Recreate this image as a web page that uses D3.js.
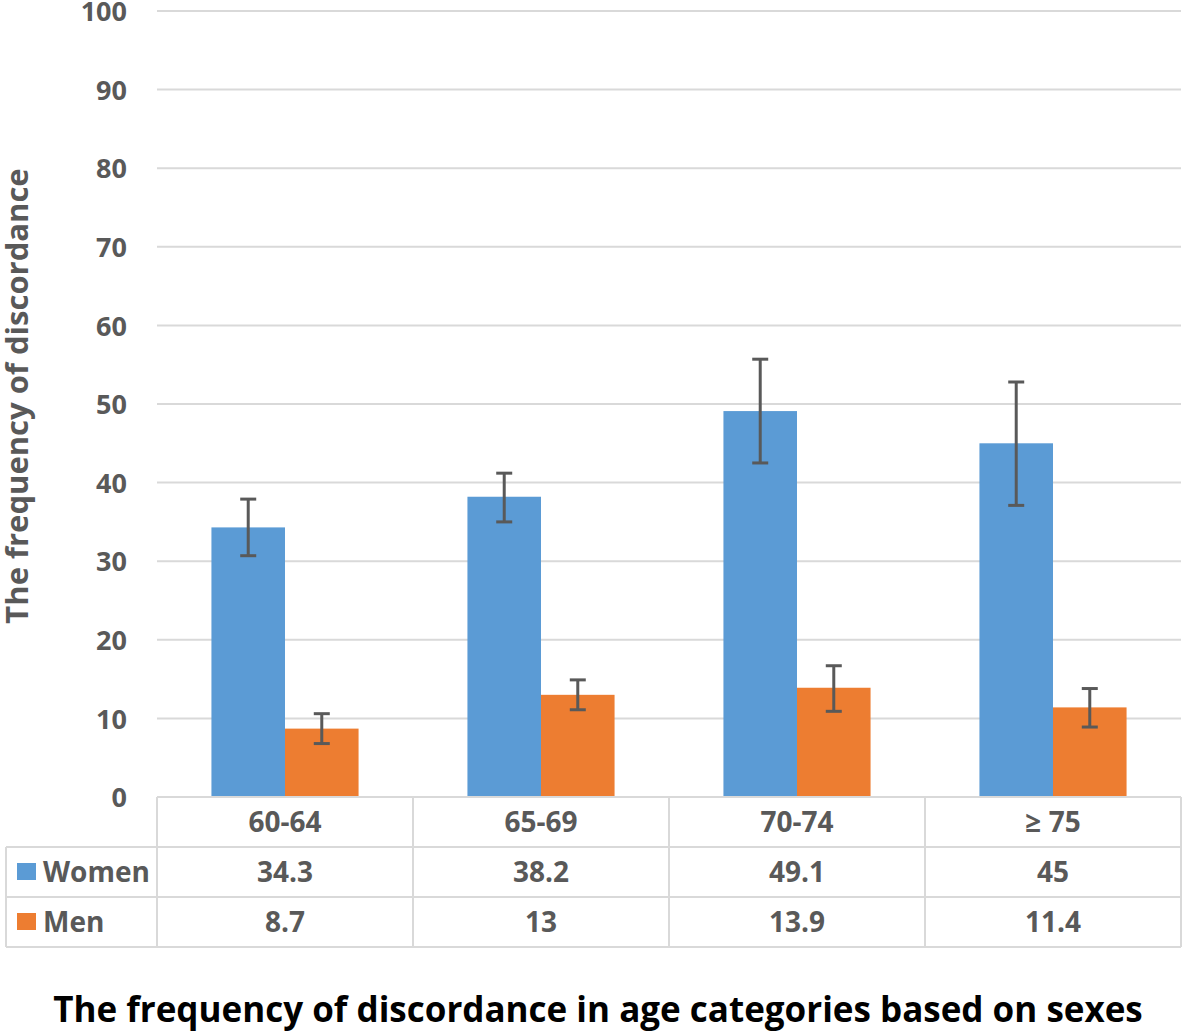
<!DOCTYPE html>
<html>
<head>
<meta charset="utf-8">
<script src="https://cdn.jsdelivr.net/npm/d3@7"></script>
<style>
  html, body { margin: 0; padding: 0; background: #fff; }
  svg { display: block; }
  text { font-family: "Open Sans", sans-serif; font-weight: 700; }
</style>
</head>
<body>
<svg id="chart" width="1183" height="1032"></svg>
<script>
const categories = ["60-64", "65-69", "70-74", "≥ 75"];
const seriesNames = ["Women", "Men"];
const womenValues = [34.3, 38.2, 49.1, 45];
const menValues = [8.7, 13, 13.9, 11.4];
const womenErrLow = [30.7, 35.0, 42.5, 37.1];
const womenErrHigh = [37.9, 41.2, 55.7, 52.8];
const menErrLow = [6.8, 11.1, 10.9, 8.9];
const menErrHigh = [10.6, 14.9, 16.7, 13.8];
const yTickValues = [0, 10, 20, 30, 40, 50, 60, 70, 80, 90, 100];
const tableLabels = [["34.3", "38.2", "49.1", "45"], ["8.7", "13", "13.9", "11.4"]];

const colors = { Women: "#5B9BD5", Men: "#ED7D31" };
const textColor = "#595959";
const gridColor = "#d9d9d9";

const svg = d3.select("#chart");
const plotLeft = 157, plotRight = 1181, plotTop = 11, plotBottom = 797;
const rowH = 50;
const tableLeft = 6;

const y = d3.scaleLinear().domain([0, 100]).range([plotBottom, plotTop]);
const x0 = d3.scaleBand().domain(categories).range([plotLeft, plotRight]).padding(0);
const x1 = d3.scaleBand().domain(seriesNames).range([0, x0.bandwidth()]).paddingInner(0).paddingOuter(0.74);

// gridlines
svg.append("g").selectAll("line")
  .data(yTickValues.filter(d => d > 0))
  .join("line")
  .attr("x1", plotLeft).attr("x2", plotRight)
  .attr("y1", d => y(d)).attr("y2", d => y(d))
  .attr("stroke", gridColor).attr("stroke-width", 2);

// y axis tick labels
const yAxis = d3.axisLeft(y).tickValues(yTickValues).tickSize(0).tickPadding(0);
const yg = svg.append("g").attr("transform", `translate(127,0)`).call(yAxis);
yg.select(".domain").remove();
yg.selectAll("text")
  .attr("fill", textColor)
  .style("font-size", "27px")
  .style("font-family", "'Open Sans', sans-serif")
  .style("font-weight", "700")
  .attr("dy", "0.36em");

// bars
const data = categories.map((c, i) => ({
  cat: c,
  vals: [
    { s: "Women", v: womenValues[i], lo: womenErrLow[i], hi: womenErrHigh[i] },
    { s: "Men", v: menValues[i], lo: menErrLow[i], hi: menErrHigh[i] }
  ]
}));

const groups = svg.append("g").selectAll("g")
  .data(data).join("g")
  .attr("transform", d => `translate(${x0(d.cat)},0)`);

groups.selectAll("rect")
  .data(d => d.vals).join("rect")
  .attr("x", d => x1(d.s))
  .attr("width", x1.bandwidth())
  .attr("y", d => y(d.v))
  .attr("height", d => y(0) - y(d.v))
  .attr("fill", d => colors[d.s]);

// error bars
const eb = groups.selectAll("g.err")
  .data(d => d.vals).join("g").attr("class", "err")
  .attr("stroke", textColor).attr("stroke-width", 3);
eb.append("line")
  .attr("x1", d => x1(d.s) + x1.bandwidth() / 2)
  .attr("x2", d => x1(d.s) + x1.bandwidth() / 2)
  .attr("y1", d => y(d.hi)).attr("y2", d => y(d.lo));
eb.append("line")
  .attr("x1", d => x1(d.s) + x1.bandwidth() / 2 - 8)
  .attr("x2", d => x1(d.s) + x1.bandwidth() / 2 + 8)
  .attr("y1", d => y(d.hi)).attr("y2", d => y(d.hi));
eb.append("line")
  .attr("x1", d => x1(d.s) + x1.bandwidth() / 2 - 8)
  .attr("x2", d => x1(d.s) + x1.bandwidth() / 2 + 8)
  .attr("y1", d => y(d.lo)).attr("y2", d => y(d.lo));

// data table
const tbl = svg.append("g").attr("stroke", gridColor).attr("stroke-width", 2);
tbl.append("line").attr("x1", plotLeft).attr("x2", plotRight).attr("y1", plotBottom).attr("y2", plotBottom);
[1, 2, 3].forEach(r => {
  tbl.append("line").attr("x1", tableLeft).attr("x2", plotRight)
    .attr("y1", plotBottom + r * rowH).attr("y2", plotBottom + r * rowH);
});
tbl.append("line").attr("x1", tableLeft).attr("x2", tableLeft)
  .attr("y1", plotBottom + rowH).attr("y2", plotBottom + 3 * rowH);
categories.forEach(c => {
  tbl.append("line").attr("x1", x0(c)).attr("x2", x0(c))
    .attr("y1", plotBottom).attr("y2", plotBottom + 3 * rowH);
});
tbl.append("line").attr("x1", plotRight).attr("x2", plotRight)
  .attr("y1", plotBottom).attr("y2", plotBottom + 3 * rowH);

// category header row
svg.append("g").selectAll("text")
  .data(categories).join("text")
  .attr("x", d => x0(d) + x0.bandwidth() / 2)
  .attr("y", plotBottom + rowH / 2)
  .attr("dy", "0.36em")
  .attr("text-anchor", "middle")
  .attr("fill", textColor)
  .style("font-size", "28px")
  .text(d => d);

// series rows
seriesNames.forEach((s, si) => {
  const cy = plotBottom + rowH * (si + 1) + rowH / 2;
  svg.append("rect")
    .attr("x", 17).attr("y", cy - 9).attr("width", 19).attr("height", 17)
    .attr("fill", colors[s]);
  svg.append("text")
    .attr("x", 43).attr("y", cy).attr("dy", "0.36em")
    .attr("fill", textColor).style("font-size", "28px")
    .text(s);
  svg.append("g").selectAll("text")
    .data(categories).join("text")
    .attr("x", d => x0(d) + x0.bandwidth() / 2)
    .attr("y", cy).attr("dy", "0.36em")
    .attr("text-anchor", "middle")
    .attr("fill", textColor).style("font-size", "28px")
    .text((d, i) => tableLabels[si][i]);
});

// y axis title
svg.append("text")
  .attr("transform", `translate(28,396) rotate(-90)`)
  .attr("text-anchor", "middle")
  .attr("fill", textColor)
  .style("font-size", "31px")
  .text("The frequency of discordance");

// chart title
svg.append("text")
  .attr("x", 598).attr("y", 1022)
  .attr("text-anchor", "middle")
  .attr("fill", "#000")
  .style("font-size", "35px")
  .text("The frequency of discordance in age categories based on sexes");
</script>
</body>
</html>
